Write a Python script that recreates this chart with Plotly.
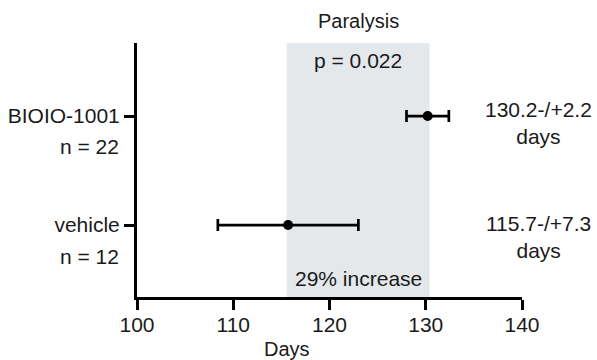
import plotly.graph_objects as go

groups = ["vehicle", "BIOIO-1001"]
group_n = [12, 22]
means = [115.7, 130.2]
errors = [7.3, 2.2]
x_ticks = [100, 110, 120, 130, 140]
shade_range = [115.55, 130.4]
title = "Paralysis"
p_text = "p = 0.022"
increase_text = "29% increase"

FONT = "Liberation Sans, Arial, sans-serif"
TXT = "#1a1a1a"
fs = 21

ypos = list(range(len(groups)))

fig = go.Figure()
fig.add_trace(go.Scatter(
    x=means, y=ypos, mode="markers",
    marker=dict(color="black", size=10),
    error_x=dict(type="data", array=errors, color="black", thickness=2.7, width=6),
    showlegend=False, cliponaxis=False,
))

fig.add_shape(type="rect", xref="x", yref="paper", x0=shade_range[0], x1=shade_range[1],
              y0=0, y1=1, fillcolor="#e5e8eb", line=dict(width=0), layer="below")

ann = []
cx = (shade_range[0] + shade_range[1]) / 2
ann.append(dict(x=cx, y=1.088, xref="x", yref="paper", text=title, showarrow=False,
                font=dict(size=fs - 1, color=TXT), xanchor="center", yanchor="middle"))
ann.append(dict(x=cx, y=0.933, xref="x", yref="paper", text=p_text, showarrow=False,
                font=dict(size=fs, color=TXT), xanchor="center", yanchor="middle"))
ann.append(dict(x=cx, y=0.071, xref="x", yref="paper", text=increase_text, showarrow=False,
                font=dict(size=fs, color=TXT), xanchor="center", yanchor="middle"))
ann.append(dict(x=(287 - 137) / 385, y=-0.205, xref="paper", yref="paper", text="Days",
                showarrow=False, font=dict(size=fs - 1, color=TXT), xanchor="center", yanchor="middle"))
# n labels
for i, n in enumerate(group_n):
    ann.append(dict(x=-16 / 385, y=i - 0.29 + (0.015 if i == 1 else 0), xref="paper", yref="y",
                    text=f"n = {n}", showarrow=False, font=dict(size=fs, color=TXT),
                    xanchor="right", yanchor="middle"))
# right-side value labels
for i, (m, e) in enumerate(zip(means, errors)):
    ann.append(dict(x=(538 - 137) / 385, y=i - 0.113 + (0.046 if i == 1 else 0), xref="paper", yref="y",
                    text=f"{m}-/+{e}<br>days", showarrow=False, font=dict(size=fs, color=TXT),
                    xanchor="center", yanchor="middle"))

fig.update_layout(
    width=597, height=360,
    margin=dict(l=137, r=75, t=43, b=63, autoexpand=False),
    paper_bgcolor="white", plot_bgcolor="white",
    font=dict(family=FONT, size=fs, color=TXT),
    annotations=ann,
    xaxis=dict(range=[100, 140], tickvals=x_ticks, ticktext=[str(t) for t in x_ticks],
               showgrid=False, zeroline=False, showline=True, linecolor="black", linewidth=3,
               ticks="outside", ticklen=10, tickwidth=3, tickcolor="black",
               ticklabelstandoff=-3, automargin=False,
               tickfont=dict(size=fs, color=TXT)),
    yaxis=dict(range=[-0.66, 1.67], tickvals=ypos, ticktext=groups,
               showgrid=False, zeroline=False, showline=True, linecolor="black", linewidth=3,
               ticks="outside", ticklen=10, tickwidth=3, tickcolor="black",
               automargin=False,
               tickfont=dict(size=fs, color=TXT)),
)

fig.write_html("out.html")
